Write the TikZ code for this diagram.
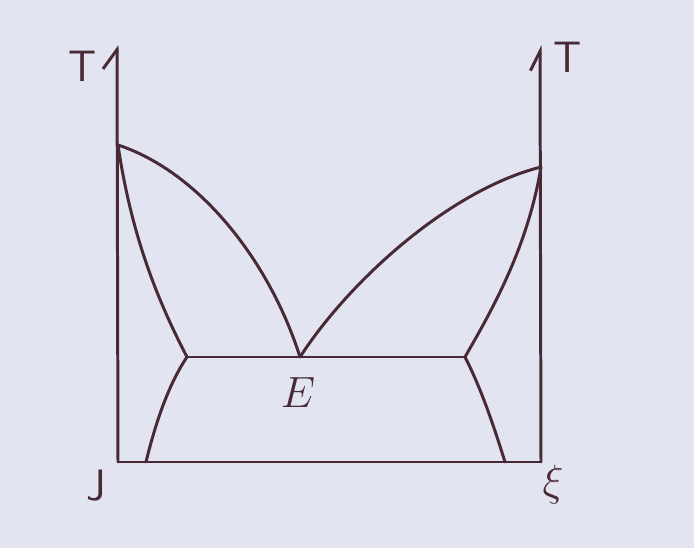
\documentclass[tikz,border=0pt]{standalone}
\usepackage{amsmath}
\usetikzlibrary{arrows.meta}
\definecolor{paper}{RGB}{226,229,241}
\definecolor{pencil}{RGB}{72,42,54}
\tikzset{line/.style = {draw=pencil, line width=1.7pt, line cap=round, line join=round}}
\tikzset{lbl/.style = {text=pencil, inner sep=0, font=\fontsize{25}{30}\selectfont\sffamily}}

\begin{document}
\begin{tikzpicture}[x=0.02cm, y=-0.02cm]
    \fill[paper] (0,0) rectangle (694,548);
    \useasboundingbox (0,0) rectangle (694,548);
    \coordinate (o) at (118,462);
    \coordinate (lt) at (117,45);
    \coordinate (r) at (541,462);
    \coordinate (rt) at (540,45);
    \coordinate (a) at (118,145);
    \coordinate (b) at (541,167);
    \coordinate (e) at (300,357);
    \coordinate (p) at (187,357);
    \coordinate (q) at (465,357);
    \coordinate (p') at (146,462);
    \coordinate (q') at (505,462);
    % axes
    \draw[line, -{Straight Barb[left, length=11pt, width=16pt]}] (o) -- (lt);
    \draw[line, -{Straight Barb[left, length=11pt, width=11pt]}] (r) -- (rt);
    \draw[line] (o) -- (r);
    % liquidus
    \draw[line] (a) .. controls (200,172) and (270,262) .. (e);
    \draw[line] (e) .. controls (350,280) and (450,190) .. (b);
    % solidus and solvus
    \draw[line] (a) .. controls (132,240) and (160,305) .. (p);
    \draw[line] (b) .. controls (528,245) and (495,305) .. (q);
    \draw[line] (p) .. controls (168,385) and (155,425) .. (p');
    \draw[line] (q) .. controls (482,390) and (495,430) .. (q');
    \draw[line] (p) -- (q);
    \node[lbl] (tl) at (83,66) {T};
    \node[lbl] (tr) at (568,57) {T};
    \node[lbl] (el) at (298,393) {$E$};
    \node[lbl] (jl) at (96,486) {J};
    \node[lbl, font=\fontsize{30}{34}\selectfont] (xl) at (553,485) {$\xi$};
\end{tikzpicture}
\end{document}
